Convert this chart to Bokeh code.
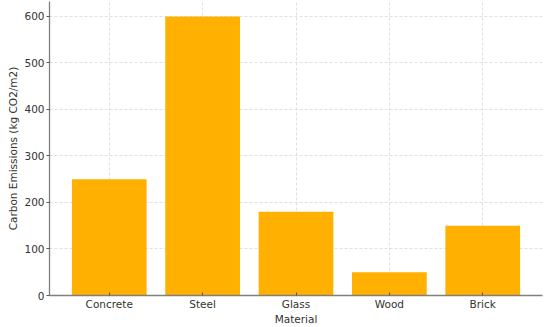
from bokeh.plotting import figure
from bokeh.models import Range1d, FixedTicker
from bokeh.embed import file_html
from bokeh.resources import INLINE

categories = ["Concrete", "Steel", "Glass", "Wood", "Brick"]
emissions = [250, 600, 180, 50, 150]
y_ticks = [0, 100, 200, 300, 400, 500, 600]

xs = list(range(len(categories)))

p = figure(width=556, height=327, output_backend="svg", toolbar_location=None,
           x_range=Range1d(-0.64, 4.64), y_range=Range1d(0, 632))
p.min_border_left = 49
p.min_border_right = 14
p.min_border_top = 1
p.min_border_bottom = 31
p.outline_line_color = None
p.background_fill_color = "white"

p.vbar(x=xs, top=emissions, width=0.8, fill_color="#FFB000", line_color=None)

font = "DejaVu Sans"
for ax in (p.xaxis[0], p.yaxis[0]):
    ax.axis_line_color = "#808080"
    ax.axis_line_width = 1.3
    ax.major_tick_line_color = "#555555"
    ax.minor_tick_line_color = None
    ax.major_label_text_font = font
    ax.major_label_text_font_size = "10.5px"
    ax.major_label_text_color = "#333333"
    ax.axis_label_text_font = font
    ax.axis_label_text_font_size = "10.5px"
    ax.axis_label_text_font_style = "normal"
    ax.axis_label_text_color = "#333333"

p.xaxis.ticker = FixedTicker(ticks=xs)
p.xaxis.major_label_overrides = {i: c for i, c in enumerate(categories)}
p.xaxis.major_tick_in = 3
p.xaxis.major_tick_out = 0
p.xaxis.axis_label = "Material"
p.xaxis.axis_label_standoff = 0
p.xaxis.major_label_standoff = 2

p.yaxis.ticker = FixedTicker(ticks=y_ticks)
p.yaxis.major_tick_in = 0
p.yaxis.major_tick_out = 3
p.yaxis.axis_label = "Carbon Emissions (kg CO2/m2)"
p.yaxis.axis_label_standoff = 2
p.yaxis.major_label_standoff = 2

p.xgrid.ticker = FixedTicker(ticks=xs)
p.ygrid.ticker = FixedTicker(ticks=y_ticks)
for g in (p.xgrid[0], p.ygrid[0]):
    g.grid_line_color = "#d8d8d8"
    g.grid_line_dash = "3 2"
    g.grid_line_width = 0.8

open("out.html", "w").write(file_html(p, INLINE))
